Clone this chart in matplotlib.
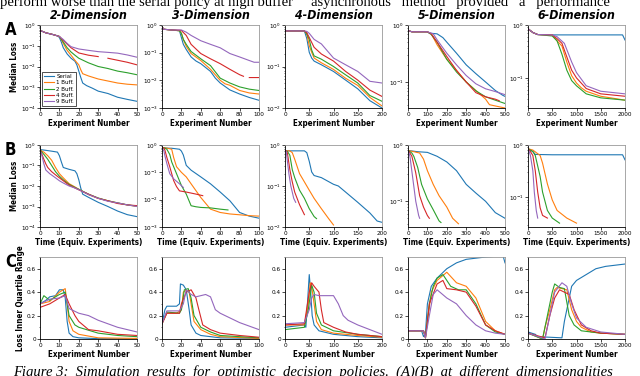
import numpy as np
import matplotlib
matplotlib.use("Agg")
import matplotlib.pyplot as plt
from matplotlib import font_manager as fm
from matplotlib.ticker import NullFormatter, MultipleLocator, FixedLocator, FuncFormatter

# condensed sans if one is installed, else shrink normal DejaVu
names = {f.name for f in fm.fontManager.ttflist}
cond = [f.name for f in fm.fontManager.ttflist
        if str(f.stretch) in ('condensed', 'semi-condensed', 'extra-condensed')
        or (isinstance(f.stretch, int) and f.stretch < 500)]
if 'Liberation Sans Narrow' in names:
    plt.rcParams['font.family'] = ['Liberation Sans Narrow', 'DejaVu Sans']
    fs_lab, fs_tick, fs_title, fs_leg = 6.5, 5, 9, 4.5
elif cond:
    plt.rcParams['font.family'] = [cond[0], 'DejaVu Sans']
    plt.rcParams['font.stretch'] = 'condensed'
    fs_lab, fs_tick, fs_title, fs_leg = 5.8, 4.6, 8.8, 4.4
else:
    plt.rcParams['font.family'] = ['DejaVu Sans']
    fs_lab, fs_tick, fs_title, fs_leg = 5.2, 4.2, 7.5, 3.8

nan = np.nan
labels = ["Serial", "1 Buff.", "2 Buff.", "4 Buff.", "9 Buff."]
colors = ["#1f77b4", "#ff7f0e", "#2ca02c", "#d62728", "#9467bd"]
titles = ["2-Dimension", "3-Dimension", "4-Dimension", "5-Dimension", "6-Dimension"]
xmax = [50, 100, 200, 500, 2000]
ylow = [1e-4, 1e-3, 1e-2, 0.035, 0.027]

# Row A: median loss vs experiment number
A1 = {
    "Serial": ([0, 3, 6, 9, 10, 11, 12, 14, 16, 18, 19, 20, 21, 22, 24, 27, 30, 35, 40, 45, 50],
               [0.55, 0.42, 0.36, 0.3, 0.25, 0.15, 0.08, 0.04, 0.025, 0.018, 0.012, 0.006, 0.003, 0.0016,
                0.0012, 0.0009, 0.00065, 0.0005, 0.00033, 0.00026, 0.00021]),
    "1 Buff.": ([0, 3, 6, 9, 10, 11, 12, 14, 16, 18, 20, 21, 22, 25, 30, 35, 40, 45, 50],
                [0.55, 0.42, 0.36, 0.3, 0.28, 0.2, 0.13, 0.06, 0.035, 0.02, 0.012, 0.007, 0.0045, 0.0035,
                 0.0025, 0.002, 0.0016, 0.0014, 0.0013]),
    "2 Buff.": ([0, 3, 6, 9, 10, 12, 14, 16, 18, 20, 25, 30, 35, 40, 45, 50],
                [0.55, 0.42, 0.36, 0.3, 0.28, 0.15, 0.08, 0.05, 0.035, 0.025, 0.015, 0.01, 0.008, 0.006,
                 0.005, 0.004]),
    "4 Buff.": ([0, 3, 6, 9, 10, 12, 14, 16, 20, 25, 30, 33, 35, 40, 45, 50],
                [0.55, 0.42, 0.36, 0.3, 0.28, 0.18, 0.12, 0.08, 0.045, 0.035, 0.03, nan, 0.025, 0.02,
                 0.016, 0.012]),
    "9 Buff.": ([0, 3, 6, 9, 10, 12, 14, 16, 20, 25, 30, 35, 40, 45, 50],
                [0.55, 0.42, 0.36, 0.3, 0.28, 0.2, 0.13, 0.09, 0.07, 0.06, 0.052, 0.048, 0.044, 0.036, 0.028]),
}
A2 = {
    "Serial": ([0, 2, 10, 18, 20, 22, 25, 30, 35, 40, 50, 55, 60, 70, 80, 90, 100],
               [0.85, 0.7, 0.66, 0.62, 0.35, 0.2, 0.13, 0.07, 0.05, 0.04, 0.021, 0.012, 0.008, 0.0045,
                0.0032, 0.0024, 0.0019]),
    "1 Buff.": ([0, 2, 10, 18, 20, 22, 25, 30, 40, 50, 60, 65, 70, 80, 90, 100],
                [0.85, 0.7, 0.66, 0.62, 0.5, 0.3, 0.17, 0.093, 0.052, 0.025, 0.01, 0.0075, 0.0066, 0.0043,
                 0.0035, 0.0032]),
    "2 Buff.": ([0, 2, 10, 18, 20, 22, 25, 30, 40, 50, 60, 70, 80, 90, 100],
                [0.85, 0.7, 0.66, 0.62, 0.5, 0.3, 0.2, 0.11, 0.06, 0.034, 0.012, 0.008, 0.0058, 0.0048, 0.0043]),
    "4 Buff.": ([0, 2, 10, 18, 20, 25, 30, 40, 50, 60, 70, 80, 84, 87, 90, 100],
                [0.85, 0.7, 0.66, 0.65, 0.63, 0.42, 0.2, 0.093, 0.06, 0.04, 0.025, 0.016, 0.014, nan,
                 0.0126, 0.0126]),
    "9 Buff.": ([0, 2, 10, 18, 20, 25, 30, 40, 50, 60, 70, 80, 90, 95, 100],
                [0.85, 0.7, 0.66, 0.66, 0.66, 0.55, 0.42, 0.27, 0.2, 0.15, 0.093, 0.07, 0.052, 0.045, 0.045]),
}
A3 = {
    "Serial": ([0, 10, 40, 45, 48, 50, 55, 60, 75, 100, 125, 150, 175, 200],
               [0.72, 0.72, 0.72, 0.47, 0.3, 0.22, 0.16, 0.135, 0.11, 0.076, 0.047, 0.029, 0.015, 0.01]),
    "1 Buff.": ([0, 40, 45, 50, 55, 60, 75, 100, 125, 150, 175, 200],
                [0.72, 0.72, 0.6, 0.32, 0.22, 0.16, 0.123, 0.085, 0.052, 0.035, 0.018, 0.0112]),
    "2 Buff.": ([0, 40, 45, 50, 55, 60, 75, 100, 125, 150, 175, 200],
                [0.72, 0.72, 0.6, 0.45, 0.25, 0.18, 0.15, 0.1, 0.063, 0.04, 0.02, 0.0145]),
    "4 Buff.": ([0, 40, 45, 50, 55, 60, 75, 100, 125, 150, 175, 200],
                [0.72, 0.72, 0.65, 0.5, 0.38, 0.29, 0.2, 0.135, 0.076, 0.047, 0.027, 0.019]),
    "9 Buff.": ([0, 40, 45, 50, 60, 75, 100, 125, 150, 175, 200],
                [0.72, 0.72, 0.7, 0.63, 0.45, 0.35, 0.16, 0.11, 0.076, 0.044, 0.04]),
}
A4 = {
    "Serial": ([0, 20, 100, 110, 150, 180, 200, 250, 300, 350, 400, 450, 490, 500],
               [0.8, 0.76, 0.76, 0.72, 0.7, 0.6, 0.5, 0.32, 0.2, 0.14, 0.1, 0.071, 0.058, 0.056]),
    "1 Buff.": ([0, 20, 100, 120, 150, 200, 250, 300, 350, 400, 420, 450, 500],
                [0.8, 0.76, 0.76, 0.7, 0.45, 0.25, 0.16, 0.1, 0.071, 0.05, 0.04, 0.038, 0.035]),
    "2 Buff.": ([0, 20, 100, 120, 150, 200, 250, 300, 350, 400, 450, 500],
                [0.8, 0.76, 0.76, 0.68, 0.5, 0.25, 0.15, 0.1, 0.07, 0.055, 0.048, 0.042]),
    "4 Buff.": ([0, 20, 100, 120, 150, 200, 250, 300, 350, 400, 450, 470],
                [0.8, 0.76, 0.76, 0.7, 0.5, 0.28, 0.16, 0.1, 0.065, 0.055, 0.05, 0.047]),
    "9 Buff.": ([0, 20, 100, 130, 150, 200, 250, 300, 350, 400, 450, 500],
                [0.8, 0.76, 0.76, 0.7, 0.55, 0.32, 0.2, 0.13, 0.093, 0.076, 0.068, 0.06]),
}
A5 = {
    "Serial": ([0, 100, 200, 500, 1000, 1500, 1950, 2000],
               [0.85, 0.72, 0.66, 0.65, 0.65, 0.65, 0.65, 0.52]),
    "1 Buff.": ([0, 100, 200, 500, 600, 700, 800, 900, 1000, 1100, 1200, 1500, 2000],
                [0.85, 0.72, 0.66, 0.65, 0.5, 0.4, 0.2, 0.11, 0.08, 0.065, 0.056, 0.045, 0.038]),
    "2 Buff.": ([0, 100, 200, 500, 600, 700, 800, 900, 1000, 1200, 1500, 2000],
                [0.85, 0.72, 0.66, 0.62, 0.5, 0.28, 0.14, 0.089, 0.071, 0.05, 0.042, 0.038]),
    "4 Buff.": ([0, 100, 200, 500, 600, 700, 800, 900, 1000, 1200, 1500, 2000],
                [0.85, 0.72, 0.66, 0.65, 0.55, 0.45, 0.25, 0.14, 0.1, 0.063, 0.05, 0.045]),
    "9 Buff.": ([0, 100, 200, 500, 600, 750, 900, 1000, 1200, 1500, 2000],
                [0.85, 0.72, 0.66, 0.65, 0.6, 0.45, 0.2, 0.126, 0.071, 0.056, 0.05]),
}

# Row B: median loss vs time
B1 = {
    "Serial": ([0, 3, 6, 9, 10, 11, 12, 15, 18, 19, 20, 21, 22, 25, 30, 35, 40, 45, 50],
               [0.6, 0.55, 0.5, 0.45, 0.3, 0.15, 0.08, 0.065, 0.055, 0.04, 0.02, 0.008, 0.004, 0.0028,
                0.0016, 0.001, 0.0006, 0.0004, 0.00032]),
    "1 Buff.": ([0, 1, 2, 4, 6, 8, 10, 12, 15, 18, 20, 25, 30, 35, 40, 45, 50],
                [0.6, 0.5, 0.45, 0.3, 0.18, 0.08, 0.04, 0.025, 0.013, 0.009, 0.0069, 0.0038, 0.0025,
                 0.0019, 0.0015, 0.0012, 0.001]),
    "2 Buff.": ([0, 1, 2, 4, 6, 8, 10, 12, 15, 18, 20, 25, 30, 35, 40, 45, 50],
                [0.6, 0.45, 0.35, 0.2, 0.1, 0.05, 0.03, 0.02, 0.012, 0.0085, 0.0069, 0.004, 0.0026,
                 0.0019, 0.0015, 0.0012, 0.00105]),
    "4 Buff.": ([0, 1, 2, 3, 4, 6, 8, 10, 12, 15, 18, 20, 25, 30, 35, 40, 45, 50],
                [0.6, 0.35, 0.2, 0.12, 0.08, 0.05, 0.035, 0.025, 0.018, 0.011, 0.008, 0.0065, 0.004,
                 0.0025, 0.0019, 0.0014, 0.0012, 0.0011]),
    "9 Buff.": ([0, 1, 2, 3, 5, 8, 10, 12, 15, 18, 20, 25, 30, 35, 40, 45, 50],
                [0.6, 0.3, 0.12, 0.06, 0.04, 0.025, 0.018, 0.014, 0.01, 0.008, 0.0066, 0.0038, 0.0025,
                 0.0018, 0.0015, 0.0012, 0.001]),
}
B2 = {
    "Serial": ([0, 5, 10, 18, 20, 22, 25, 30, 40, 50, 60, 70, 80, 90, 100],
               [0.8, 0.77, 0.76, 0.7, 0.6, 0.43, 0.18, 0.12, 0.068, 0.038, 0.019, 0.0091, 0.0034,
                0.0025, 0.0021]),
    "1 Buff.": ([0, 5, 10, 12, 15, 20, 25, 30, 40, 50, 60, 70, 80, 90, 100],
                [0.8, 0.77, 0.7, 0.35, 0.16, 0.1, 0.068, 0.038, 0.012, 0.0045, 0.0034, 0.003, 0.0028,
                 0.0026, 0.0025]),
    "2 Buff.": ([0, 3, 5, 8, 10, 15, 20, 25, 30, 35, 40, 50, 60, 68],
                [0.8, 0.77, 0.7, 0.45, 0.24, 0.089, 0.033, 0.016, 0.006, 0.0055, 0.0052, 0.005, 0.0045, 0.0042]),
    "4 Buff.": ([0, 2, 3, 5, 8, 12, 15, 18, 25, 35, 42],
                [0.8, 0.77, 0.65, 0.35, 0.16, 0.05, 0.03, 0.021, 0.019, 0.016, 0.014]),
    "9 Buff.": ([0, 1, 2, 3, 5, 8, 12, 18, 22],
                [0.8, 0.7, 0.6, 0.4, 0.21, 0.089, 0.058, 0.038, 0.028]),
}
B3 = {
    "Serial": ([0, 10, 40, 45, 50, 55, 60, 75, 100, 110, 125, 150, 175, 190, 200],
               [0.72, 0.72, 0.72, 0.65, 0.4, 0.22, 0.18, 0.16, 0.11, 0.1, 0.071, 0.04, 0.022, 0.014, 0.013]),
    "1 Buff.": ([0, 10, 15, 20, 30, 40, 50, 60, 75, 90, 100],
                [0.72, 0.72, 0.65, 0.45, 0.2, 0.126, 0.079, 0.05, 0.028, 0.016, 0.0112]),
    "2 Buff.": ([0, 5, 10, 15, 20, 30, 40, 50, 60, 65],
                [0.72, 0.7, 0.56, 0.25, 0.16, 0.079, 0.05, 0.028, 0.018, 0.016]),
    "4 Buff.": ([0, 3, 5, 10, 15, 20, 30, 40],
                [0.72, 0.72, 0.63, 0.25, 0.126, 0.071, 0.035, 0.02]),
    "9 Buff.": ([0, 2, 3, 8, 12, 18, 22],
                [0.72, 0.72, 0.63, 0.2, 0.1, 0.05, 0.04]),
}
B4 = {
    "Serial": ([0, 50, 100, 150, 200, 250, 300, 350, 400, 450, 500],
               [0.8, 0.76, 0.74, 0.63, 0.5, 0.35, 0.2, 0.14, 0.1, 0.063, 0.05]),
    "1 Buff.": ([0, 30, 60, 80, 100, 130, 160, 200, 230, 260],
                [0.8, 0.76, 0.72, 0.56, 0.35, 0.2, 0.126, 0.079, 0.05, 0.04]),
    "2 Buff.": ([0, 20, 30, 50, 70, 100, 130, 160, 170],
                [0.8, 0.72, 0.63, 0.4, 0.2, 0.11, 0.071, 0.045, 0.042]),
    "4 Buff.": ([0, 10, 20, 40, 60, 80, 100, 110],
                [0.8, 0.72, 0.63, 0.32, 0.126, 0.079, 0.056, 0.05]),
    "9 Buff.": ([0, 5, 10, 25, 40, 55, 60],
                [0.8, 0.72, 0.63, 0.25, 0.1, 0.056, 0.05]),
}
B5 = {
    "Serial": ([0, 100, 150, 500, 1000, 1500, 1950, 2000],
               [0.85, 0.75, 0.66, 0.65, 0.65, 0.65, 0.65, 0.52]),
    "1 Buff.": ([0, 100, 250, 300, 400, 500, 600, 800, 1000],
                [0.85, 0.8, 0.63, 0.45, 0.18, 0.089, 0.056, 0.04, 0.032]),
    "2 Buff.": ([0, 100, 150, 250, 300, 400, 500, 650],
                [0.85, 0.75, 0.63, 0.25, 0.126, 0.056, 0.04, 0.032]),
    "4 Buff.": ([0, 50, 100, 150, 200, 250, 300, 400],
                [0.85, 0.75, 0.63, 0.32, 0.126, 0.063, 0.045, 0.04]),
    "9 Buff.": ([0, 25, 50, 100, 130, 170, 200],
                [0.85, 0.75, 0.63, 0.32, 0.126, 0.056, 0.04]),
}

# Row C: loss inner quartile range vs experiment number
C1 = {
    "Serial": ([0, 3, 5, 8, 10, 12, 13, 14, 15, 17, 20, 30, 50],
               [0.3, 0.33, 0.36, 0.37, 0.42, 0.42, 0.35, 0.15, 0.05, 0.02, 0.01, 0.003, 0.0]),
    "1 Buff.": ([0, 5, 10, 13, 14, 15, 17, 20, 30, 50],
                [0.3, 0.32, 0.4, 0.43, 0.3, 0.15, 0.07, 0.04, 0.01, 0.005]),
    "2 Buff.": ([0, 2, 5, 10, 13, 15, 18, 20, 30, 40, 50],
                [0.3, 0.37, 0.33, 0.38, 0.4, 0.2, 0.12, 0.1, 0.05, 0.03, 0.02]),
    "4 Buff.": ([0, 5, 10, 13, 15, 18, 20, 25, 30, 40, 50],
                [0.27, 0.3, 0.35, 0.38, 0.3, 0.2, 0.15, 0.08, 0.07, 0.04, 0.03]),
    "9 Buff.": ([0, 5, 10, 13, 15, 20, 25, 30, 40, 50],
                [0.3, 0.34, 0.35, 0.37, 0.26, 0.22, 0.2, 0.16, 0.1, 0.06]),
}
C2 = {
    "Serial": ([0, 3, 5, 15, 18, 19, 22, 25, 28, 30, 35, 40, 60, 100],
               [0.13, 0.25, 0.28, 0.28, 0.3, 0.47, 0.46, 0.42, 0.25, 0.12, 0.05, 0.03, 0.01, 0.005]),
    "1 Buff.": ([0, 5, 15, 20, 22, 25, 28, 30, 33, 40, 50, 60, 100],
                [0.13, 0.22, 0.22, 0.25, 0.4, 0.42, 0.4, 0.3, 0.15, 0.08, 0.04, 0.02, 0.005]),
    "2 Buff.": ([0, 5, 18, 20, 23, 27, 30, 33, 40, 50, 60, 100],
                [0.13, 0.23, 0.22, 0.25, 0.42, 0.43, 0.35, 0.2, 0.1, 0.06, 0.03, 0.01]),
    "4 Buff.": ([0, 5, 18, 20, 25, 30, 35, 38, 42, 50, 60, 80, 100],
                [0.13, 0.22, 0.22, 0.3, 0.4, 0.42, 0.35, 0.25, 0.12, 0.08, 0.05, 0.03, 0.015]),
    "9 Buff.": ([0, 5, 18, 22, 25, 30, 35, 40, 45, 50, 55, 60, 70, 80, 90, 100],
                [0.13, 0.24, 0.24, 0.3, 0.42, 0.38, 0.36, 0.37, 0.38, 0.36, 0.25, 0.22, 0.18, 0.14, 0.11, 0.08]),
}
C3 = {
    "Serial": ([0, 40, 43, 47, 50, 53, 56, 60, 70, 100, 150, 200],
               [0.1, 0.12, 0.1, 0.35, 0.55, 0.4, 0.2, 0.12, 0.07, 0.04, 0.02, 0.01]),
    "1 Buff.": ([0, 40, 48, 52, 55, 60, 65, 75, 100, 150, 200],
                [0.12, 0.12, 0.3, 0.48, 0.45, 0.3, 0.15, 0.08, 0.05, 0.03, 0.015]),
    "2 Buff.": ([0, 40, 48, 55, 60, 65, 75, 100, 150, 200],
                [0.08, 0.1, 0.25, 0.46, 0.4, 0.22, 0.12, 0.07, 0.04, 0.02]),
    "4 Buff.": ([0, 40, 50, 55, 60, 70, 75, 80, 100, 125, 150, 200],
                [0.12, 0.13, 0.4, 0.48, 0.45, 0.4, 0.25, 0.14, 0.1, 0.06, 0.04, 0.02]),
    "9 Buff.": ([0, 40, 50, 55, 60, 70, 85, 100, 110, 120, 130, 150, 175, 200],
                [0.13, 0.14, 0.25, 0.35, 0.38, 0.37, 0.37, 0.37, 0.3, 0.2, 0.16, 0.12, 0.08, 0.04]),
}
C4 = {
    "Serial": ([0, 70, 80, 90, 100, 120, 150, 200, 250, 300, 350, 400, 490, 500],
               [0.07, 0.07, 0.02, 0.05, 0.3, 0.45, 0.52, 0.6, 0.65, 0.68, 0.69, 0.7, 0.71, 0.65]),
    "1 Buff.": ([0, 80, 90, 100, 120, 150, 200, 250, 300, 350, 400, 450, 500],
                [0.07, 0.07, 0.01, 0.15, 0.4, 0.5, 0.57, 0.48, 0.45, 0.35, 0.15, 0.07, 0.04]),
    "2 Buff.": ([0, 80, 90, 110, 130, 150, 180, 220, 260, 300, 350, 400, 450, 500],
                [0.07, 0.07, 0.01, 0.3, 0.45, 0.52, 0.55, 0.45, 0.42, 0.42, 0.3, 0.12, 0.06, 0.04]),
    "4 Buff.": ([0, 80, 90, 110, 150, 180, 200, 250, 300, 350, 400, 450, 500],
                [0.07, 0.07, 0.01, 0.3, 0.47, 0.5, 0.43, 0.42, 0.4, 0.28, 0.12, 0.07, 0.04]),
    "9 Buff.": ([0, 80, 90, 110, 130, 150, 200, 250, 300, 350, 400, 450, 500],
                [0.07, 0.07, 0.01, 0.2, 0.38, 0.42, 0.35, 0.3, 0.2, 0.12, 0.07, 0.05, 0.04]),
}
C5 = {
    "Serial": ([0, 150, 200, 700, 750, 850, 900, 1000, 1200, 1400, 1600, 2000],
               [0.06, 0.04, 0.02, 0.01, 0.15, 0.35, 0.45, 0.5, 0.55, 0.6, 0.62, 0.64]),
    "1 Buff.": ([0, 300, 350, 450, 550, 600, 700, 800, 900, 1000, 1100, 1300, 1500, 2000],
                [0.05, 0.0, 0.1, 0.25, 0.42, 0.44, 0.43, 0.42, 0.25, 0.15, 0.1, 0.06, 0.05, 0.04]),
    "2 Buff.": ([0, 300, 400, 500, 550, 650, 750, 850, 950, 1100, 1500, 2000],
                [0.05, 0.0, 0.2, 0.4, 0.47, 0.44, 0.43, 0.2, 0.12, 0.07, 0.05, 0.04]),
    "4 Buff.": ([0, 350, 450, 550, 650, 750, 850, 950, 1100, 1300, 1500, 2000],
                [0.05, 0.01, 0.2, 0.35, 0.42, 0.4, 0.38, 0.25, 0.12, 0.07, 0.05, 0.04]),
    "9 Buff.": ([0, 350, 450, 550, 700, 800, 900, 1000, 1200, 1500, 2000],
                [0.05, 0.0, 0.2, 0.4, 0.48, 0.45, 0.3, 0.18, 0.1, 0.06, 0.04]),
}

rows = [[A1, A2, A3, A4, A5], [B1, B2, B3, B4, B5], [C1, C2, C3, C4, C5]]

fig = plt.figure(figsize=(6.4, 3.76), dpi=100)
W, H = 640, 376
lefts = [40, 162, 285, 408, 528]
row_tb = [(25, 108), (145, 227), (257, 339)]
xlabels = ["Experiment Number", "Time (Equiv. Experiments)", "Experiment Number"]

for r in range(3):
    top, bot = row_tb[r]
    for c in range(5):
        ax = fig.add_axes([lefts[c] / W, 1 - bot / H, 97 / W, (bot - top) / H])
        data = rows[r][c]
        for lab, col in zip(labels, colors):
            x, y = data[lab]
            ax.plot(x, y, color=col, lw=0.8, label=lab)
        ax.set_xlim(0, xmax[c])
        if r < 2:
            ax.set_yscale('log')
            ax.set_ylim(ylow[c], 1)
            ax.yaxis.set_minor_formatter(NullFormatter())
        else:
            ax.set_ylim(0, 0.7)
            ax.yaxis.set_major_locator(FixedLocator([0, 0.2, 0.4, 0.6]))
            ax.yaxis.set_major_formatter(FuncFormatter(lambda v, p: "0" if v == 0 else f"{v:.1f}"))
            ax.yaxis.set_minor_locator(MultipleLocator(0.1))
        ax.tick_params(labelsize=fs_tick, length=2, width=0.5, pad=1)
        ax.tick_params(which='minor', length=1, width=0.4)
        for s in ['top', 'right']:
            ax.spines[s].set_color('#999999')
        for s in ax.spines.values():
            s.set_linewidth(0.6)
        ax.set_xlabel(xlabels[r], fontsize=fs_lab, fontweight='bold', labelpad=1)
        if r == 0:
            ax.set_title(titles[c], fontsize=fs_title, fontweight='bold', style='italic', pad=4)
        if c == 0:
            ax.set_ylabel("Loss Inner Quartile Range" if r == 2 else "Median Loss",
                          fontsize=fs_lab, fontweight='bold', labelpad=1)
        if r == 0 and c == 0:
            leg = ax.legend(loc='lower left', fontsize=fs_leg, frameon=True, fancybox=False,
                            edgecolor='black', handlelength=1.6, borderpad=0.35, labelspacing=0.15,
                            handletextpad=0.4, borderaxespad=0.3)
            leg.get_frame().set_linewidth(0.6)

for letter, ypx in zip("ABC", [30, 150, 262]):
    fig.text(5 / W, 1 - ypx / H, letter, fontsize=12, fontweight='bold', va='center')

fig.text(0.0, 1 - 2.5 / H,
         "perform worse than the serial policy at high buffer     asynchronous   method   provided   a   performance",
         family='Liberation Serif', fontsize=10.5, va='center', ha='left')
fig.text(0.02, 1 - 365 / H,
         "Figure 3:  Simulation  results  for  optimistic  decision  policies.  (A)(B)  at  different  dimensionalities",
         family='Liberation Serif', fontsize=10.5, style='italic', va='top', ha='left')

fig.savefig("out.png", dpi=100)
